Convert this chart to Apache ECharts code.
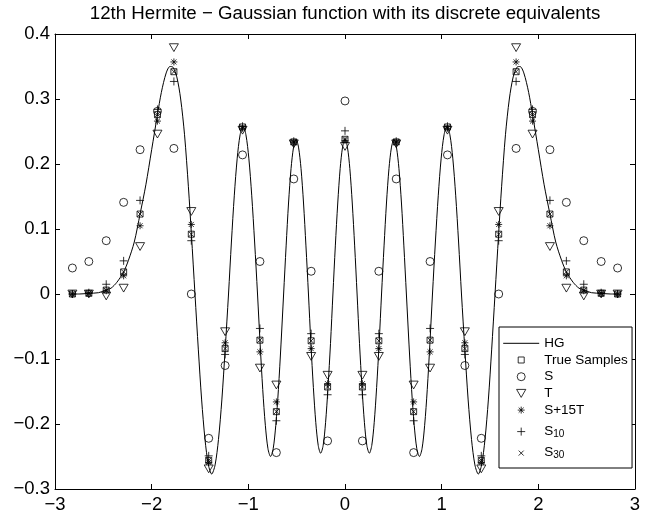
<!DOCTYPE html>
<html>
<head>
<meta charset="utf-8">
<script src="https://cdn.jsdelivr.net/npm/echarts/dist/echarts.min.js"></script>
<style>
html,body{margin:0;padding:0;background:#fff;}
#chart{width:661px;height:518px;}
</style>
</head>
<body>
<div id="chart"></div>
<script>
// ---- tick labels ----
const xTicks = [-3, -2, -1, 0, 1, 2, 3];
const xTickLabels = ['\u22123', '\u22122', '\u22121', '0', '1', '2', '3'];
const yTicks = [-0.3, -0.2, -0.1, 0, 0.1, 0.2, 0.3, 0.4];
const yTickLabels = ['\u22120.3', '\u22120.2', '\u22120.1', '0', '0.1', '0.2', '0.3', '0.4'];

// ---- continuous HG curve ----
const hgX = [-2.82,-2.75,-2.65,-2.55,-2.47,-2.42,-2.36,-2.29,-2.24,-2.18,-2.12,-2.06,-2.0,-1.94,-1.9,-1.85,-1.81,-1.78,-1.74,-1.7,-1.66,-1.62,-1.589,-1.552,-1.517,-1.483,-1.448,-1.413,-1.379,-1.344,-1.309,-1.274,-1.24,-1.205,-1.175,-1.145,-1.115,-1.085,-1.055,-1.025,-0.995,-0.965,-0.935,-0.905,-0.878,-0.851,-0.824,-0.797,-0.77,-0.743,-0.716,-0.689,-0.662,-0.635,-0.609,-0.584,-0.558,-0.532,-0.507,-0.481,-0.455,-0.429,-0.404,-0.378,-0.353,-0.327,-0.302,-0.277,-0.252,-0.226,-0.201,-0.176,-0.15,-0.125,-0.1,-0.075,-0.05,-0.025,
  0,
  0.025,0.05,0.075,0.1,0.125,0.15,0.176,0.201,0.226,0.252,0.277,0.302,0.327,0.353,0.378,0.404,0.429,0.455,0.481,0.507,0.532,0.558,0.584,0.609,0.635,0.662,0.689,0.716,0.743,0.77,0.797,0.824,0.851,0.878,0.905,0.935,0.965,0.995,1.025,1.055,1.085,1.115,1.145,1.175,1.205,1.24,1.274,1.309,1.344,1.379,1.413,1.448,1.483,1.517,1.552,1.589,1.62,1.66,1.7,1.74,1.78,1.81,1.85,1.9,1.94,2.0,2.06,2.12,2.18,2.24,2.29,2.36,2.42,2.47,2.55,2.65,2.75,2.82];
const hgY = [0,0,0.001,0.002,0.006,0.009,0.018,0.034,0.052,0.08,0.123,0.168,0.222,0.276,0.31,0.34,0.35,0.349,0.334,0.3,0.245,0.165,0.092,0,-0.086,-0.163,-0.224,-0.263,-0.277,-0.263,-0.224,-0.163,-0.086,0,0.08,0.152,0.209,0.245,0.258,0.245,0.209,0.152,0.08,0,-0.077,-0.147,-0.202,-0.238,-0.25,-0.238,-0.202,-0.147,-0.077,0,0.074,0.14,0.193,0.226,0.238,0.226,0.193,0.14,0.074,0,-0.076,-0.144,-0.198,-0.233,-0.245,-0.233,-0.198,-0.144,-0.076,0,0.074,0.14,0.193,0.226,
  0.238,
  0.226,0.193,0.14,0.074,0,-0.076,-0.144,-0.198,-0.233,-0.245,-0.233,-0.198,-0.144,-0.076,0,0.074,0.14,0.193,0.226,0.238,0.226,0.193,0.14,0.074,0,-0.077,-0.147,-0.202,-0.238,-0.25,-0.238,-0.202,-0.147,-0.077,0,0.08,0.152,0.209,0.245,0.258,0.245,0.209,0.152,0.08,0,-0.086,-0.163,-0.224,-0.263,-0.277,-0.263,-0.224,-0.163,-0.086,0,0.092,0.165,0.245,0.3,0.334,0.349,0.35,0.34,0.31,0.276,0.222,0.168,0.123,0.08,0.052,0.034,0.018,0.009,0.006,0.002,0.001,0,0];

// ---- discrete sample positions ----
const sampleX = [-2.82,-2.65,-2.47,-2.29,-2.12,-1.94,-1.77,-1.59,-1.41,-1.24,-1.06,-0.88,-0.71,-0.53,-0.35,-0.18,0,0.18,0.35,0.53,0.71,0.88,1.06,1.24,1.41,1.59,1.77,1.94,2.12,2.29,2.47,2.65,2.82];

// ---- discrete series values ----
const trueSamples = [0,0.001,0.006,0.034,0.123,0.276,0.342,0.092,-0.256,-0.084,0.257,-0.071,-0.181,0.234,-0.072,-0.143,0.238,-0.143,-0.072,0.234,-0.181,-0.071,0.257,-0.084,-0.256,0.092,0.342,0.276,0.123,0.034,0.006,0.001,0];
const sS = [0.040,0.050,0.082,0.141,0.222,0.281,0.224,0.000,-0.222,-0.110,0.214,0.050,-0.244,0.177,0.035,-0.226,0.297,-0.226,0.035,0.177,-0.244,0.050,0.214,-0.110,-0.222,0.000,0.224,0.281,0.222,0.141,0.082,0.050,0.040];
const sT = [0,0,-0.003,0.009,0.073,0.246,0.379,0.127,-0.269,-0.058,0.252,-0.114,-0.140,0.231,-0.096,-0.125,0.227,-0.125,-0.096,0.231,-0.140,-0.114,0.252,-0.058,-0.269,0.127,0.379,0.246,0.073,0.009,-0.003,0,0];
const sS15T = [0,0.001,0.005,0.028,0.105,0.266,0.357,0.107,-0.259,-0.075,0.255,-0.089,-0.166,0.233,-0.084,-0.138,0.236,-0.138,-0.084,0.233,-0.166,-0.089,0.255,-0.075,-0.259,0.107,0.357,0.266,0.105,0.028,0.005,0.001,0];
const sS10 = [0,0.002,0.015,0.051,0.144,0.284,0.327,0.082,-0.249,-0.093,0.258,-0.053,-0.195,0.235,-0.061,-0.155,0.251,-0.155,-0.061,0.235,-0.195,-0.053,0.258,-0.093,-0.249,0.082,0.327,0.284,0.144,0.051,0.015,0.002,0];
const sS30 = [0,0.001,0.006,0.034,0.123,0.276,0.342,0.092,-0.256,-0.084,0.257,-0.071,-0.181,0.234,-0.072,-0.143,0.238,-0.143,-0.072,0.234,-0.181,-0.071,0.257,-0.084,-0.256,0.092,0.342,0.276,0.123,0.034,0.006,0.001,0];

const seriesNames = ['HG', 'True Samples', 'S', 'T', 'S+15T', 'S10', 'S30'];

// ---- build ----
const FONT = '"Liberation Sans", Arial, Helvetica, sans-serif';
const pairs = (xs, ys) => xs.map((x, i) => [x, ys[i]]);
const lookup = (ticks, labels) => (v) => {
  const i = ticks.findIndex(t => Math.abs(t - v) < 1e-9);
  return i >= 0 ? labels[i] : '';
};
const marker = { color: 'rgba(0,0,0,0)', borderColor: '#000', borderWidth: 1 };
const NOFILL = 'rgba(0,0,0,0)';

const SYM_TRI = 'path://M-1,0L1,0L0,1.732Z';
const SYM_AST = 'path://M0,-1L0,1M-1,0L1,0M-0.72,-0.72L0.72,0.72M-0.72,0.72L0.72,-0.72';
const SYM_PLUS = 'path://M0,-1L0,1M-1,0L1,0';
const SYM_X = 'path://M-1,-1L1,1M-1,1L1,-1';

const chart = echarts.init(document.getElementById('chart'), null, { renderer: 'canvas' });

const baseAxisLabel = { color: '#000', fontFamily: FONT, fontSize: 18.5 };

chart.setOption({
  animation: false,
  backgroundColor: '#fff',
  title: {
    text: '12th Hermite \u2212 Gaussian function with its discrete equivalents',
    left: 345, top: 4, textAlign: 'center', textVerticalAlign: 'top', padding: 0,
    textStyle: { color: '#000', fontFamily: FONT, fontSize: 18.7, fontWeight: 'normal' }
  },
  grid: { left: 55, right: 26, top: 34, bottom: 29, containLabel: false },
  xAxis: [
    {
      type: 'value', min: -3, max: 3, interval: 1, position: 'bottom',
      axisLine: { show: true, onZero: false, lineStyle: { color: '#000', width: 1 } },
      axisTick: { show: true, inside: true, length: 5, lineStyle: { color: '#000' } },
      axisLabel: Object.assign({ margin: 6, formatter: lookup(xTicks, xTickLabels) }, baseAxisLabel),
      splitLine: { show: false }
    },
    {
      type: 'value', min: -3, max: 3, interval: 1, position: 'top',
      axisLine: { show: true, onZero: false, lineStyle: { color: '#000', width: 1 } },
      axisTick: { show: true, inside: true, length: 5, lineStyle: { color: '#000' } },
      axisLabel: { show: false }, splitLine: { show: false }
    }
  ],
  yAxis: [
    {
      type: 'value', min: -0.3, max: 0.4, interval: 0.1, position: 'left',
      axisLine: { show: true, onZero: false, lineStyle: { color: '#000', width: 1 } },
      axisTick: { show: true, inside: true, length: 5, lineStyle: { color: '#000' } },
      axisLabel: Object.assign({ margin: 5, formatter: lookup(yTicks, yTickLabels) }, baseAxisLabel),
      splitLine: { show: false }
    },
    {
      type: 'value', min: -0.3, max: 0.4, interval: 0.1, position: 'right',
      axisLine: { show: true, onZero: false, lineStyle: { color: '#000', width: 1 } },
      axisTick: { show: true, inside: true, length: 5, lineStyle: { color: '#000' } },
      axisLabel: { show: false }, splitLine: { show: false }
    }
  ],
  legend: {
    orient: 'vertical', left: 499, top: 327,
    padding: [8.8, 4.3, 7.4, 3.7], itemGap: 1.7,
    itemWidth: 36, itemHeight: 8,
    backgroundColor: '#fff', borderColor: '#000', borderWidth: 1, borderRadius: 0,
    selectedMode: false,
    itemStyle: { borderWidth: 1 },
    lineStyle: { width: 1 },
    textStyle: {
      color: '#000', fontFamily: FONT, fontSize: 13.5, lineHeight: 15,
      rich: {
        base: { color: '#000', fontFamily: FONT, fontSize: 13.5, lineHeight: 15, verticalAlign: 'top' },
        sub: { color: '#000', fontFamily: FONT, fontSize: 10, lineHeight: 12, verticalAlign: 'bottom', padding: [9.8, 0, 0, 0] }
      }
    },
    formatter: function (name) {
      if (name === 'S10') return '{base|S}{sub|10}';
      if (name === 'S30') return '{base|S}{sub|30}';
      return name;
    },
    data: [
      { name: seriesNames[0], itemStyle: { color: NOFILL, borderColor: NOFILL, borderWidth: 0 }, lineStyle: { width: 1, color: '#000' } },
      { name: seriesNames[1], icon: 'path://M-1.33,-1.33M1.33,1.33M-1,-1L1,-1L1,1L-1,1Z' },
      { name: seriesNames[2], icon: 'circle' },
      { name: seriesNames[3], icon: SYM_TRI },
      { name: seriesNames[4], icon: 'path://M-1.15,-1.15M1.15,1.15M0,-1L0,1M-1,0L1,0M-0.72,-0.72L0.72,0.72M-0.72,0.72L0.72,-0.72' },
      { name: seriesNames[5], icon: SYM_PLUS },
      { name: seriesNames[6], icon: 'path://M-1.6,-1.6M1.6,1.6M-1,-1L1,1M-1,1L1,-1' }
    ]
  },
  series: [
    {
      name: seriesNames[0], type: 'line', data: pairs(hgX, hgY),
      symbol: 'none', smooth: 0.3, clip: true,
      lineStyle: { color: '#000', width: 1 }, itemStyle: { color: '#000' }, z: 2
    },
    { name: seriesNames[1], type: 'scatter', data: pairs(sampleX, trueSamples), symbol: 'rect', symbolSize: 6, itemStyle: marker, z: 3 },
    { name: seriesNames[2], type: 'scatter', data: pairs(sampleX, sS), symbol: 'circle', symbolSize: 8, itemStyle: marker, z: 3 },
    { name: seriesNames[3], type: 'scatter', data: pairs(sampleX, sT), symbol: SYM_TRI, symbolSize: 9, symbolKeepAspect: true, itemStyle: marker, z: 3 },
    { name: seriesNames[4], type: 'scatter', data: pairs(sampleX, sS15T), symbol: SYM_AST, symbolSize: 7, itemStyle: marker, z: 3 },
    { name: seriesNames[5], type: 'scatter', data: pairs(sampleX, sS10), symbol: SYM_PLUS, symbolSize: 8, itemStyle: marker, z: 3 },
    { name: seriesNames[6], type: 'scatter', data: pairs(sampleX, sS30), symbol: SYM_X, symbolSize: 5.5, itemStyle: marker, z: 3 }
  ]
});
</script>
</body>
</html>
